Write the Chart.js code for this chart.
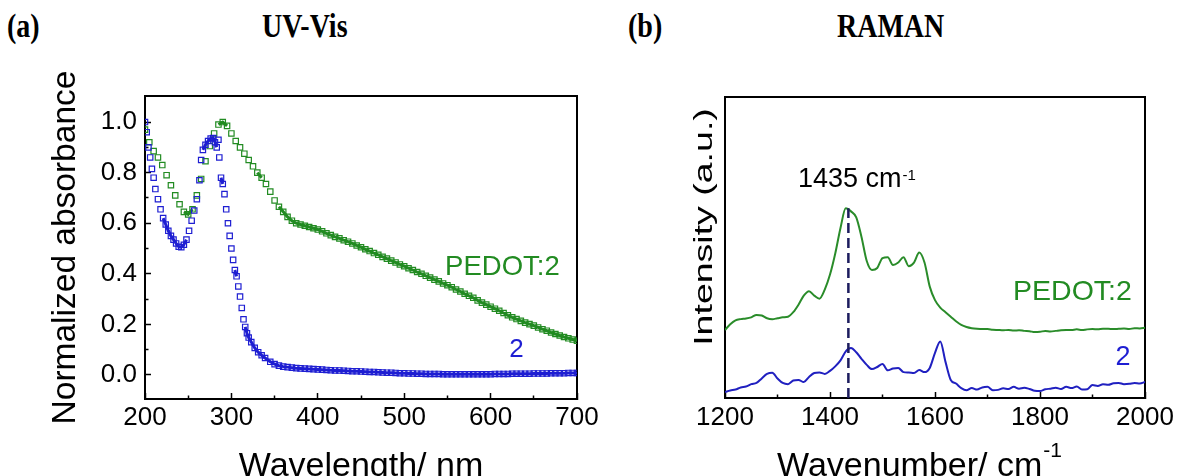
<!DOCTYPE html>
<html>
<head>
<meta charset="utf-8">
<script src="https://cdn.jsdelivr.net/npm/chart.js@4.4.1/dist/chart.umd.min.js"></script>
<style>
  html, body { margin: 0; padding: 0; background: #fff; overflow: hidden; }
  body { width: 1177px; height: 476px; position: relative; }
  canvas { position: absolute; top: 0; }
  #uv { left: 0; }
  #raman { left: 600px; }
  .head {
    position: absolute; top: 9px; color: #000; white-space: nowrap;
    font: bold 28px "Liberation Serif", "Times New Roman", serif; line-height: 28px;
    transform: scaleY(1.22); transform-origin: 0 0;
  }
</style>
</head>
<body>
<div class="head" style="left:7px">(a)</div>
<div class="head" style="left:262px">UV-Vis</div>
<div class="head" style="left:628px">(b)</div>
<div class="head" style="left:837px">RAMAN</div>
<canvas id="uv" width="620" height="490"></canvas>
<canvas id="raman" width="590" height="490"></canvas>
<script>
Chart.defaults.font.family = '"Liberation Sans", Arial, sans-serif';
Chart.defaults.color = '#000';

// UV-Vis, PEDOT:2 (normalized absorbance)
const uvWavelengthPedot = [
  200, 205, 210, 215, 220, 225, 230, 235, 240, 245,
  250, 255, 260, 265, 270, 275, 280, 285, 290, 295,
  300, 305, 310, 315, 320, 325, 330, 335, 340, 345,
  350, 355, 360, 365, 370, 375, 380, 385, 390, 395,
  400, 405, 410, 415, 420, 425, 430, 435, 440, 445,
  450, 455, 460, 465, 470, 475, 480, 485, 490, 495,
  500, 505, 510, 515, 520, 525, 530, 535, 540, 545,
  550, 555, 560, 565, 570, 575, 580, 585, 590, 595,
  600, 605, 610, 615, 620, 625, 630, 635, 640, 645,
  650, 655, 660, 665, 670, 675, 680, 685, 690, 695, 700
];
const uvPedot = [
  .97, .92, .885, .86, .83, .79, .75, .71, .675, .645,
  .635, .655, .71, .775, .845, .905, .955, .99, 1.0, .985,
  .955, .925, .90, .875, .85, .825, .80, .78, .755, .725,
  .69, .665, .645, .625, .61, .60, .595, .59, .585, .58,
  .575, .568, .56, .553, .546, .54, .533, .527, .52, .512,
  .505, .497, .49, .482, .475, .467, .46, .452, .445, .437,
  .43, .422, .415, .407, .40, .392, .385, .377, .37, .362,
  .355, .347, .338, .33, .321, .313, .305, .295, .286, .278,
  .27, .262, .254, .245, .236, .228, .221, .214, .207, .201,
  .195, .188, .181, .175, .168, .162, .156, .150, .145, .140, .135
];

// UV-Vis, compound 2
const uvWavelengthMonomer = [
  200, 202, 204, 206, 208, 210, 212, 215, 218, 221,
  224, 227, 230, 233, 236, 239, 242, 245, 248, 251,
  254, 257, 260, 263, 265, 267, 270, 273, 276, 279,
  281, 283, 285, 286, 288, 290, 292, 294, 296, 298,
  300, 302, 304, 306, 308, 310, 312, 314, 316, 318,
  320, 323, 327, 331, 335, 339, 345, 350, 355, 360,
  365, 370, 375, 380, 385, 390, 395, 400, 405, 410,
  415, 420, 425, 430, 435, 440, 445, 450, 455, 460,
  465, 470, 475, 480, 485, 490, 495, 500, 505, 510,
  515, 520, 525, 530, 535, 540, 545, 550, 555, 560,
  565, 570, 575, 580, 585, 590, 595, 600, 605, 610,
  615, 620, 625, 630, 635, 640, 645, 650, 655, 660,
  665, 670, 675, 680, 685, 690, 695, 700
];
const uvMonomer = [
  1.0, .96, .90, .86, .815, .78, .735, .695, .655, .62,
  .595, .57, .55, .535, .52, .507, .505, .515, .535, .57,
  .61, .65, .695, .77, .85, .89, .91, .925, .935, .937,
  .92, .90, .93, .86, .78, .755, .715, .655, .60, .55,
  .50, .455, .415, .39, .35, .31, .265, .22, .19, .165,
  .148, .13, .107, .09, .078, .067, .052, .043, .037, .033,
  .031, .029, .027, .026, .025, .024, .023, .022, .021, .020,
  .019, .018, .018, .017, .016, .015, .015, .014, .013, .012,
  .012, .011, .010, .009, .009, .008, .007, .007, .006, .006,
  .005, .005, .004, .004, .004, .004, .003, .003, .003, .003,
  .003, .003, .003, .003, .003, .003, .003, .003, .004, .004,
  .004, .004, .005, .005, .005, .005, .005, .006, .006, .006,
  .006, .007, .007, .007, .007, .008, .008, .008
];

const uvXTicks = [200, 300, 400, 500, 600, 700];
const uvXMinor = [250, 350, 450, 550, 650];
const uvYTicks = [0, 0.2, 0.4, 0.6, 0.8, 1.0];
const uvYMinor = [0.1, 0.3, 0.5, 0.7, 0.9];

// Raman (arbitrary units)
const ramanShift = [
  1200, 1210, 1220, 1230, 1240, 1250, 1260, 1270, 1280, 1290,
  1300, 1310, 1320, 1330, 1340, 1350, 1360, 1370, 1380, 1390,
  1400, 1410, 1420, 1430, 1440, 1450, 1460, 1470, 1480, 1490,
  1500, 1510, 1520, 1530, 1540, 1550, 1560, 1570, 1580, 1590,
  1600, 1610, 1620, 1630, 1640, 1650, 1660, 1670, 1680, 1690,
  1700, 1710, 1720, 1730, 1740, 1750, 1760, 1770, 1780, 1790,
  1800, 1810, 1820, 1830, 1840, 1850, 1860, 1870, 1880, 1890,
  1900, 1910, 1920, 1930, 1940, 1950, 1960, 1970, 1980, 1990, 2000
];
const ramanPedot = [
  22.6, 24.5, 25.8, 26.2, 26.4, 26.8, 27.6, 27.4, 26.5, 26.2,
  26.5, 26.8, 27.0, 28.5, 31.0, 34.0, 35.5, 34.0, 33.0, 36.0,
  41.0, 48.0, 56.5, 63.0, 62.0, 60.0, 53.5, 45.5, 42.5, 43.2,
  46.5, 46.8, 44.2, 45.0, 46.8, 43.8, 45.0, 48.3, 45.0, 37.0,
  32.5, 30.0, 28.5, 27.0, 25.5, 24.3, 23.6, 23.2, 23.0, 22.9,
  22.9, 22.7, 22.6, 22.5, 22.6, 22.4, 22.5, 22.3, 22.2, 21.9,
  22.0, 22.3, 22.1, 22.3, 22.5, 22.6, 22.6, 22.8, 22.6, 22.8,
  22.9, 22.8, 23.0, 23.0, 22.9, 23.0, 23.1, 22.9, 23.2, 23.1, 23.3
];
const ramanMonomer = [
  2.0, 2.5, 2.8, 3.5, 3.8, 4.6, 5.0, 6.5, 8.0, 8.4,
  6.5, 5.0, 4.6, 5.8, 6.0, 5.3, 7.0, 8.3, 8.5, 8.0,
  9.0, 10.5, 12.5, 15.5, 16.6, 15.2, 13.0, 11.0, 9.6, 10.3,
  11.3, 9.2, 9.8, 10.0, 8.6, 8.5, 8.3, 9.3, 8.6, 10.0,
  15.0, 18.8, 12.0, 6.0, 4.8, 3.3, 2.6, 3.3, 2.8, 3.5,
  3.7, 2.6, 2.7, 3.2, 3.0, 3.7, 3.1, 3.4, 3.0, 2.4,
  2.3, 2.9, 3.1, 3.4, 3.0, 3.7, 3.3, 3.8, 2.8, 2.9,
  4.3, 4.0, 4.6, 4.4, 4.9, 5.0, 4.6, 4.7, 5.0, 4.8, 5.3
];
const ramanPeak = 1435;
const ramanXTicks = [1200, 1400, 1600, 1800, 2000];
const ramanXMinor = [1300, 1500, 1700, 1900];

const GREEN = '#228b22';
const BLUE = '#1e1ed2';
const FONT = '"Liberation Sans", Arial, sans-serif';

function toPoints(xs, ys) {
  return xs.map((x, i) => ({ x: x, y: ys[i] }));
}

// join neighbouring markers only where they sit close together (dense band)
function bandColor(color) {
  return ctx => {
    const dx = ctx.p1.x - ctx.p0.x, dy = ctx.p1.y - ctx.p0.y;
    return Math.sqrt(dx * dx + dy * dy) > 7 ? 'rgba(0,0,0,0)' : color;
  };
}

// axis with inward ticks (negative tick length) and a black border
function tickAxis(position, min, max, values, len, withBorder, extra) {
  return Object.assign({
    type: 'linear', position: position, min: min, max: max,
    grid: { display: len !== 0, drawOnChartArea: false, drawTicks: true, tickLength: -len, tickWidth: 1.5, tickColor: '#000' },
    border: { display: withBorder, color: '#000', width: 2 },
    ticks: { display: false, autoSkip: false, maxRotation: 0 },
    afterBuildTicks: axis => { axis.ticks = values.map(v => ({ value: v })); }
  }, extra || {});
}

function flat(axis) {
  if (axis.isHorizontal()) axis.height = 0; else axis.width = 0;
}

function textWithSup(ctx, main, sup, cx, baseline, size, supSize, rise) {
  ctx.font = size + 'px ' + FONT;
  const w1 = ctx.measureText(main).width;
  ctx.font = supSize + 'px ' + FONT;
  const w2 = ctx.measureText(sup).width;
  const x0 = cx - (w1 + w2) / 2;
  ctx.textAlign = 'left';
  ctx.textBaseline = 'alphabetic';
  ctx.font = size + 'px ' + FONT;
  ctx.fillText(main, x0, baseline);
  ctx.font = supSize + 'px ' + FONT;
  ctx.fillText(sup, x0 + w1 + 1, baseline - rise);
}

const uvDecor = {
  id: 'uvDecor',
  afterDraw(chart) {
    const ctx = chart.ctx, a = chart.chartArea;
    const xs = chart.scales.x, ys = chart.scales.y;
    ctx.save();
    ctx.fillStyle = '#000';
    ctx.textAlign = 'center';
    ctx.textBaseline = 'alphabetic';
    ctx.font = '34px ' + FONT;
    ctx.fillText('Wavelength/ nm', (a.left + a.right) / 2, 476);
    ctx.save();
    ctx.translate(65.5, (a.top + a.bottom) / 2);
    ctx.rotate(-Math.PI / 2);
    ctx.textBaseline = 'middle';
    ctx.font = '33.5px ' + FONT;
    ctx.fillText('Normalized absorbance', 0, 0);
    ctx.restore();
    // series labels
    ctx.textBaseline = 'middle';
    ctx.font = '27.5px ' + FONT;
    ctx.fillStyle = GREEN;
    ctx.textAlign = 'right';
    ctx.fillText('PEDOT:2', xs.getPixelForValue(680), ys.getPixelForValue(0.427));
    ctx.fillStyle = BLUE;
    ctx.textAlign = 'center';
    ctx.font = '26px ' + FONT;
    ctx.fillText('2', xs.getPixelForValue(630), ys.getPixelForValue(0.10));
    ctx.restore();
  }
};

const ramanDecor = {
  id: 'ramanDecor',
  afterDraw(chart) {
    const ctx = chart.ctx, a = chart.chartArea;
    const xs = chart.scales.x, ys = chart.scales.y;
    ctx.save();
    ctx.fillStyle = '#000';
    textWithSup(ctx, 'Wavenumber/ cm', '-1', (a.left + a.right) / 2 - 16, 476, 34, 21, 19);
    textWithSup(ctx, '1435 cm', '-1', xs.getPixelForValue(ramanPeak) + 8, 187, 27, 15, 7);
    ctx.save();
    ctx.translate(105, 227);
    ctx.rotate(-Math.PI / 2);
    ctx.scale(1.5, 1);
    ctx.textAlign = 'center';
    ctx.textBaseline = 'middle';
    ctx.font = '25px ' + FONT;
    ctx.fillText('Intensity (a.u.)', 0, 0);
    ctx.restore();
    ctx.textBaseline = 'middle';
    ctx.font = '28.5px ' + FONT;
    ctx.fillStyle = GREEN;
    ctx.textAlign = 'right';
    ctx.fillText('PEDOT:2', xs.getPixelForValue(1975), ys.getPixelForValue(35.2));
    ctx.fillStyle = BLUE;
    ctx.textAlign = 'center';
    ctx.font = '27px ' + FONT;
    ctx.fillText('2', xs.getPixelForValue(1958), ys.getPixelForValue(13.6));
    ctx.restore();
  }
};

// UV-Vis chart
new Chart(document.getElementById('uv'), {
  type: 'scatter',
  data: {
    datasets: [{
      label: '2',
      data: toPoints(uvWavelengthMonomer, uvMonomer),
      showLine: true,
      borderWidth: 3,
      segment: { borderColor: bandColor(BLUE) },
      pointStyle: 'rect',
      pointRadius: 3.8,
      pointBorderWidth: 1.2,
      pointBorderColor: BLUE,
      borderColor: BLUE,
      pointBackgroundColor: 'rgba(0,0,0,0)',
      backgroundColor: 'rgba(0,0,0,0)',
      order: 0
    }, {
      label: 'PEDOT:2',
      data: toPoints(uvWavelengthPedot, uvPedot),
      showLine: true,
      borderWidth: 3,
      segment: { borderColor: bandColor(GREEN) },
      pointStyle: 'rect',
      pointRadius: 3.8,
      pointBorderWidth: 1.2,
      pointBorderColor: GREEN,
      borderColor: GREEN,
      pointBackgroundColor: 'rgba(0,0,0,0)',
      backgroundColor: 'rgba(0,0,0,0)',
      order: 1
    }]
  },
  options: {
    responsive: false,
    animation: false,
    devicePixelRatio: 1,
    layout: { padding: { left: 0, top: 96, right: 43, bottom: 0 } },
    plugins: { legend: { display: false }, tooltip: { enabled: false } },
    scales: {
      x: tickAxis('bottom', 200, 700, uvXTicks, 6, true, {
        ticks: { display: true, font: { size: 26 }, padding: 9, maxRotation: 0, autoSkip: false, callback: v => String(v) },
        afterFit: axis => { axis.height = 91; }
      }),
      y: tickAxis('left', -0.095, 1.103, uvYTicks, 6, true, {
        ticks: { display: true, font: { size: 26 }, padding: 14, autoSkip: false, callback: v => v.toFixed(1) },
        afterFit: axis => { axis.width = 145; }
      }),
      xMinor: tickAxis('bottom', 200, 700, uvXMinor, 3.5, false, { weight: -1, afterFit: flat }),
      yMinor: tickAxis('left', -0.095, 1.103, uvYMinor, 3.5, false, { weight: -1, afterFit: flat }),
      xTop: tickAxis('top', 200, 700, [], 0, true, { afterFit: flat }),
      yRight: tickAxis('right', -0.095, 1.103, [], 0, true, { afterFit: flat })
    }
  },
  plugins: [uvDecor]
});

// Raman chart
new Chart(document.getElementById('raman'), {
  type: 'scatter',
  data: {
    datasets: [{
      label: 'peak',
      data: [{ x: ramanPeak, y: 0 }, { x: ramanPeak, y: Math.max(...ramanPedot) }],
      showLine: true,
      borderColor: '#1c1c5e',
      borderWidth: 2.5,
      borderDash: [10, 5],
      pointRadius: 0,
      order: 0
    }, {
      label: 'PEDOT:2',
      data: toPoints(ramanShift, ramanPedot),
      showLine: true,
      borderColor: '#2a8c2a',
      borderWidth: 2,
      pointRadius: 0,
      cubicInterpolationMode: 'monotone',
      order: 1
    }, {
      label: '2',
      data: toPoints(ramanShift, ramanMonomer),
      showLine: true,
      borderColor: '#2020c0',
      borderWidth: 2,
      pointRadius: 0,
      cubicInterpolationMode: 'monotone',
      order: 2
    }]
  },
  options: {
    responsive: false,
    animation: false,
    devicePixelRatio: 1,
    layout: { padding: { left: 0, top: 97, right: 45, bottom: 0 } },
    plugins: { legend: { display: false }, tooltip: { enabled: false } },
    scales: {
      x: tickAxis('bottom', 1200, 2000, ramanXTicks, 6, true, {
        ticks: { display: true, font: { size: 26 }, padding: 10, maxRotation: 0, autoSkip: false, callback: v => String(v) },
        afterFit: axis => { axis.height = 92; }
      }),
      y: tickAxis('left', 0, 100, [], 0, true, {
        afterFit: axis => { axis.width = 125; }
      }),
      xMinor: tickAxis('bottom', 1200, 2000, ramanXMinor, 3.5, false, { weight: -1, afterFit: flat }),
      xTop: tickAxis('top', 1200, 2000, [], 0, true, { afterFit: flat }),
      yRight: tickAxis('right', 0, 100, [], 0, true, { afterFit: flat })
    }
  },
  plugins: [ramanDecor]
});
</script>
</body>
</html>
